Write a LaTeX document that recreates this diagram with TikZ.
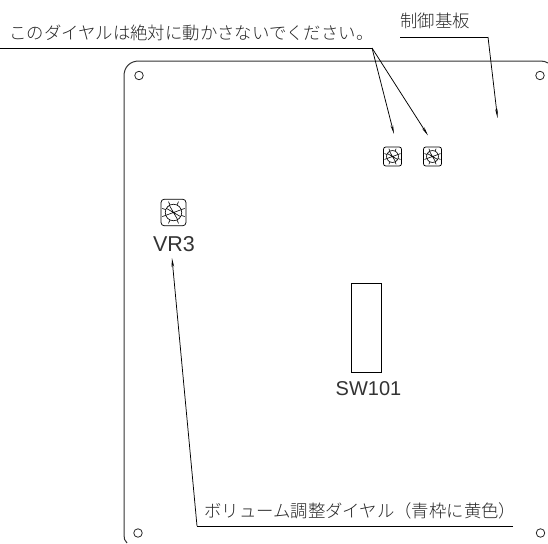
\documentclass[tikz,border=0pt]{standalone}
\usepackage{fontspec}
\setmainfont{Liberation Sans}
\newfontfamily\jpfont{Noto Sans CJK JP Light}
\usetikzlibrary{arrows.meta}
\tikzset{
  board/.style={line width=1pt,draw=black!80},
  leader/.style={line width=0.75pt,draw=black},
  tip/.style={-{Stealth[length=9pt,width=2.6pt]}},
  hole/.style={circle,draw=black!85,line width=0.8pt,minimum size=8.5pt,inner sep=0pt},
  jptext/.style={inner sep=0pt,font=\jpfont\fontsize{17.4}{19}\selectfont,text=black!85},
  lat/.style={inner sep=0pt,text=black!80},
  dial/.pic={
    \draw[line width=0.75pt,rounded corners=#1*0.13pt] (-#1*0.5pt,-#1*0.53pt) rectangle (#1*0.5pt,#1*0.53pt);
    \draw[line width=0.65pt] (0,0) circle[radius=#1*0.33pt];
    \draw[line width=0.6pt] (-60:#1*0.33pt) -- (120:#1*0.33pt) (20:#1*0.33pt) -- (200:#1*0.33pt) (-30:#1*0.33pt) -- (150:#1*0.33pt);
    \foreach \a in {20,65,115,160,200,245,295,340}
      \draw[line width=0.6pt] (\a:#1*0.33pt) -- (\a:#1*0.48pt);
  }
}
\begin{document}
\begin{tikzpicture}[x=1pt,y=-1pt]
\useasboundingbox (0,0) rectangle (548,543);
% board outline
\draw[board] (127,543) .. controls (124.5,541) and (124,538) .. (124,535) -- (124,76)
  .. controls (124,67) and (130,61) .. (139,61) -- (540,61) .. controls (543,61) and (546,61.5) .. (548,63);
% holes
\node[hole] (h1) at (139,75.5) {};
\node[hole] (h2) at (540,75.5) {};
\node[hole] (h3) at (138,533) {};
\node[hole] (h4) at (540.5,533) {};
% dials
\pic at (392.5,156.5) {dial=18};
\pic at (432.5,156.5) {dial=18};
\pic at (173.5,212.5) {dial=25};
\coordinate (d1) at (394,134);
\coordinate (d2) at (428,135.5);
% switch
\node[draw=black,line width=0.75pt,minimum width=30pt,minimum height=89pt,inner sep=0pt] (sw) at (366,327.5) {};
% labels
\node[jptext,anchor=west] (t1) at (9,33) {このダイヤルは絶対に動かさないでください。};
\node[jptext,anchor=west] (t2) at (400,21) {制御基板};
\node[jptext,anchor=west] (t3) at (204,511) {ボリューム調整ダイヤル（青枠に黄色）};
\node[lat,font=\fontsize{21.5}{24}\selectfont] (vr) at (174,244) {VR3};
\node[lat,font=\fontsize{20}{24}\selectfont] (swt) at (368.5,389) {SW101};
% leaders
\coordinate (a0) at (0,48);
\coordinate (a1) at (372,48);
\draw[leader] (a0) -- (a1);
\draw[leader,tip] (a1) -- (d1);
\draw[leader,tip] (a1) -- (d2);
\coordinate (b0) at (400,37);
\coordinate (b1) at (488,37);
\coordinate (b2) at (497.5,118);
\draw[leader] (b0) -- (b1);
\draw[leader,tip] (b1) -- (b2);
\coordinate (c0) at (513,526);
\coordinate (c1) at (197,526);
\coordinate (c2) at (172,258);
\draw[leader] (c0) -- (c1);
\draw[leader,tip] (c1) -- (c2);
\end{tikzpicture}
\end{document}
